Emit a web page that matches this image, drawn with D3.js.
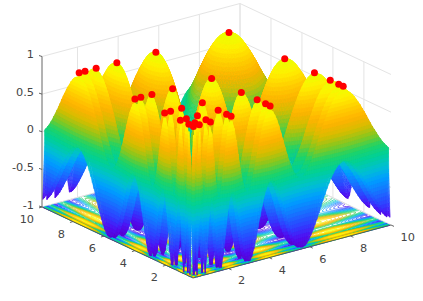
<!DOCTYPE html>
<html>
<head>
<meta charset="utf-8">
<script src="https://cdn.jsdelivr.net/npm/d3@7"></script>
<style>
html,body{margin:0;padding:0;background:#fff}
svg{display:block}
text{font-family:"DejaVu Sans",sans-serif;font-size:11.3px;fill:#454545}
</style>
</head>
<body>
<svg id="c" width="423" height="301"></svg>
<script>
// Height profile along one horizontal axis, estimated by eye at 0.1 steps from x = 0.25.
// The surface height at (x, y) is the mean of the profile along each axis.
const profile = [
-.96,.88,-.99,.30,.92,-.26,-1,-.49,.47,.98,.79,.14,-.54,-.95,-.96,-.63,-.13,.38,.78,.98,
.97,.77,.45,.06,-.32,-.64,-.87,-.98,-.99,-.89,-.70,-.46,-.18,.10,.37,.61,.79,.92,.99,1,
.95,.84,.70,.53,.33,.13,-.08,-.28,-.47,-.63,-.77,-.87,-.95,-.99,-1,-.98,-.93,-.85,-.75,-.63,
-.50,-.36,-.21,-.05,.10,.24,.38,.51,.63,.73,.82,.89,.94,.98,1,1,.98,.95,.91,.85,
.78,.69,.60,.51,.40,.30,.19,.07,-.04,-.15,-.25,-.35,-.45,-.54,-.63,-.70,-.77,-.83];
const peakPositions = [0.333,0.624,1.17,2.19,4.11,7.71];
const xTicks = [2,4,6,8,10];
const yTicks = [2,4,6,8,10];
const zTicks = [-1,-0.5,0,0.5,1];
const zTickLabels = ["-1","-0.5","0","0.5","1"];
const colorLevels = [-1,-.85,-.7,-.53,-.35,-.2,-.05,.1,.25,.4,.55,.7,.85,1];
const colorStops = ["#5800d0","#5010f0","#3040ff","#1a70ff","#00a0ff","#00c0d0","#00d09a","#20d468","#88c820","#d8bc00","#ffb400","#ffd000","#fff000","#e8ff00"];
const contourLevels = d3.range(-0.95,1,0.1);

const n = profile.length;
const index = d3.scaleLinear().domain([0,n-1]).range([0.25,9.95]);
const xToPx = d3.scaleLinear().domain([0.25,10]).range([0,198]);
const xToPy = d3.scaleLinear().domain([0.25,10]).range([0,-53]);
const yToPx = d3.scaleLinear().domain([0.25,10]).range([0,-151]);
const yToPy = d3.scaleLinear().domain([0.25,10]).range([0,-71]);
const zToPy = d3.scaleLinear().domain([-1,1]).range([0,-150.5]);
const ox = 193, oy = 278;
const px = (x,y)=>ox+xToPx(x)+yToPx(y);
const py = (x,y,z)=>oy+xToPy(x)+yToPy(y)+zToPy(z);
const color = d3.scaleLinear().domain(colorLevels).range(colorStops).interpolate(d3.interpolateRgb).clamp(true);

const svg = d3.select("#c");
const grid = svg.append("g").attr("stroke","#e4e4e4").attr("stroke-width",1).attr("fill","none");
const line3 = (a,b)=>`M${px(a[0],a[1])},${py(...a)}L${px(b[0],b[1])},${py(...b)}`;
const gridSegs = [];
zTicks.forEach(z=>{gridSegs.push(line3([0.25,10,z],[10,10,z]));gridSegs.push(line3([10,10,z],[10,0.25,z]));});
xTicks.forEach(x=>{gridSegs.push(line3([x,10,-1],[x,10,1]));gridSegs.push(line3([x,0.25,-1],[x,10,-1]));});
yTicks.forEach(y=>{gridSegs.push(line3([10,y,-1],[10,y,1]));gridSegs.push(line3([0.25,y,-1],[10,y,-1]));});
grid.selectAll("path").data(gridSegs).join("path").attr("d",d=>d);

// floor contours
const flat = [];
for(let j=0;j<n;j++)for(let i=0;i<n;i++)flat.push((profile[i]+profile[j])/2);
const contours = d3.contours().size([n,n]).thresholds(contourLevels).smooth(true)(flat);
const onEdge = c=>c[0]<=0.5||c[0]>=n-0.5||c[1]<=0.5||c[1]>=n-0.5;
svg.append("g").attr("fill","none").attr("stroke-width",0.7)
 .selectAll("path").data(contours).join("path")
 .attr("stroke",d=>color(d.value))
 .attr("d",d=>{
   let s="";
   d.coordinates.forEach(poly=>poly.forEach(ring=>{
     for(let k=1;k<ring.length;k++){
       const a=ring[k-1],b=ring[k];
       if(onEdge(a)&&onEdge(b))continue;
       const xa=index(a[0]-.5),ya=index(a[1]-.5),xb=index(b[0]-.5),yb=index(b[1]-.5);
       s+=`M${px(xa,ya).toFixed(1)},${py(xa,ya,-1).toFixed(1)}L${px(xb,yb).toFixed(1)},${py(xb,yb,-1).toFixed(1)}`;
     }
   }));
   return s;
 });

// surface: back-to-front triangles cut into colour bands
const step = 0.05;
const pieces = [];
function clip(tri,lo,hi){
  const cut=(pts,keep,lev)=>{
    const out=[];
    for(let k=0;k<pts.length;k++){
      const a=pts[k],b=pts[(k+1)%pts.length];
      const ka=keep(a[2]),kb=keep(b[2]);
      if(ka)out.push(a);
      if(ka!==kb){const t=(lev-a[2])/(b[2]-a[2]);out.push([a[0]+t*(b[0]-a[0]),a[1]+t*(b[1]-a[1]),lev]);}
    }
    return out;
  };
  let p=cut(tri,z=>z>=lo,lo);
  if(p.length)p=cut(p,z=>z<=hi,hi);
  return p;
}
function addTri(t){
  const zs=t.map(v=>v[2]);
  const mn=d3.min(zs),mx=d3.max(zs);
  const l0=Math.floor(mn/step),l1=Math.ceil(mx/step);
  for(let l=l0;l<Math.max(l1,l0+1);l++){
    const lo=l*step,hi=(l+1)*step;
    const p=clip(t,lo,hi);
    if(p.length<3)continue;
    const d="M"+p.map(v=>{const sx=px(v[0],v[1]),sy=py(v[0],v[1],v[2]);return sx.toFixed(2)+","+sy.toFixed(2);}).join("L")+"Z";
    const c=color(lo+step/2);
    const last=pieces[pieces.length-1];
    if(last&&last.c===c)last.d+=d;else pieces.push({c,d});
  }
}
for(let i=n-2;i>=0;i--){
  for(let j=n-2;j>=0;j--){
    const V=(a,b)=>[index(a),index(b),(profile[a]+profile[b])/2];
    addTri([V(i+1,j+1),V(i+1,j),V(i,j+1)]);
    addTri([V(i,j),V(i+1,j),V(i,j+1)]);
  }
}
svg.append("g").attr("stroke-width",0.35).attr("stroke-linejoin","round")
 .selectAll("path").data(pieces).join("path")
 .attr("d",d=>d.d).attr("fill",d=>d.c).attr("stroke",d=>d.c);

// axes
const axis = svg.append("g").attr("stroke","#555").attr("stroke-width",0.9).attr("fill","none");
const axisSegs=[line3([0.25,10,-1],[0.25,10,1]),line3([0.25,10,-1],[0.25,0.25,-1]),line3([0.25,0.25,-1],[10,0.25,-1])];
axis.selectAll("path.a").data(axisSegs).join("path").attr("class","a").attr("d",d=>d);
axis.selectAll("path.x").data(xTicks).join("path").attr("class","x")
 .attr("d",x=>`M${px(x,0.25)},${py(x,0.25,-1)}l3,1.4`);
axis.selectAll("path.y").data(yTicks).join("path").attr("class","y")
 .attr("d",y=>`M${px(0.25,y)},${py(0.25,y,-1)}l-3,0.9`);
axis.selectAll("path.z").data(zTicks).join("path").attr("class","z")
 .attr("d",z=>`M${px(0.25,10)},${py(0.25,10,z)}l-3,-1`);

svg.append("g").selectAll("text").data(xTicks).join("text")
 .attr("x",x=>px(x,0.25)+9.5).attr("y",x=>py(x,0.25,-1)+16).attr("text-anchor","start").text(d=>d);
svg.append("g").selectAll("text").data(yTicks).join("text")
 .attr("x",y=>px(0.25,y)-8).attr("y",y=>py(0.25,y,-1)+16).attr("text-anchor","end").text(d=>d);
svg.append("g").selectAll("text").data(zTicks).join("text")
 .attr("x",px(0.25,10)-8).attr("y",z=>py(0.25,10,z)+1.5).attr("text-anchor","end").text((d,i)=>zTickLabels[i]);

// optima
const peaks = peakPositions.flatMap(x=>peakPositions.map(y=>({x,y})));
svg.append("g").selectAll("circle").data(peaks).join("circle")
 .attr("cx",d=>px(d.x,d.y)).attr("cy",d=>py(d.x,d.y,1)).attr("r",3.5).attr("fill","#ff0000");
</script>
</body>
</html>
